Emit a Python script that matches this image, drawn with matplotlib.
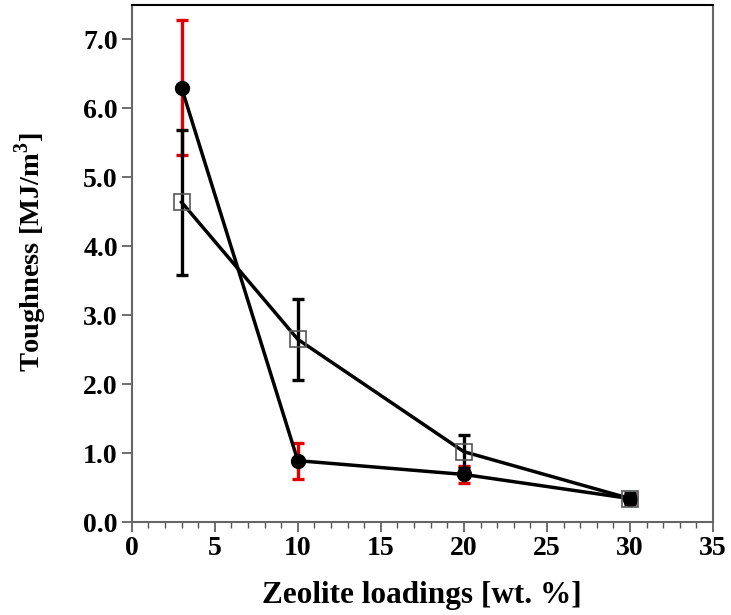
import matplotlib.pyplot as plt

# zeolite loading (wt. %)
loading = [3, 10, 20, 30]

# filled circles series with red error bars
tough_a = [6.30, 0.89, 0.69, 0.34]
err_a = [0.98, 0.26, 0.12, 0.06]

# open squares series with black error bars
tough_b = [4.64, 2.65, 1.02, 0.34]
err_b = [1.05, 0.59, 0.24, 0.08]

plt.rcParams["font.family"] = ["Liberation Serif", "DejaVu Serif"]
plt.rcParams["font.weight"] = "bold"
plt.rcParams["mathtext.fontset"] = "custom"
plt.rcParams["mathtext.rm"] = "Liberation Serif:bold"
plt.rcParams["mathtext.bf"] = "Liberation Serif:bold"

fig = plt.figure(figsize=(7.31, 6.15), dpi=100)
ax = fig.add_axes([0.1802, 0.1512, 0.7952, 0.8407])

# circles series
ax.errorbar(loading, tough_a, yerr=err_a, fmt="none", ecolor="#e00000",
            elinewidth=2.4, capsize=4, capthick=2.4, zorder=2)
ax.plot(loading, tough_a, color="black", lw=2.5, marker="o", ms=10,
        mfc="black", mec="black", zorder=4)

# squares series
ax.errorbar(loading, tough_b, yerr=err_b, fmt="none", ecolor="black",
            elinewidth=2.4, capsize=4, capthick=2.4, zorder=3)
ax.plot(loading, tough_b, color="black", lw=2.5, zorder=3)
ax.plot(loading, tough_b, ls="none", marker="s", ms=11, mfc="none",
        mec="#555555", mew=1.2, zorder=5)

ax.set_xlim(0, 35)
ax.set_ylim(0, 7.5)
ax.set_xticks(range(0, 36, 5))
ax.set_xticks(range(0, 36, 1), minor=True)
ax.set_yticks([0, 1, 2, 3, 4, 5, 6, 7])
ax.set_yticklabels([f"{v:.1f}" for v in range(8)])

ax.tick_params(axis="both", which="major", direction="out", length=7,
               width=1.2, color="#555555", labelsize=20, pad=3)
ax.tick_params(axis="x", which="minor", direction="out", length=4,
               width=1.0, color="#555555")

for side in ["left", "bottom", "right"]:
    ax.spines[side].set_color("#666666")
    ax.spines[side].set_linewidth(1.5)
ax.spines["top"].set_color("black")
ax.spines["top"].set_linewidth(1.5)

ax.set_xlabel("Zeolite loadings [wt. %]", fontsize=22.5, fontweight="bold")
ax.xaxis.set_label_coords(0.5, -0.115)
ax.set_ylabel(r"Toughness [MJ/m$^\mathbf{3}$]", fontsize=20.5, fontweight="bold")
ax.yaxis.set_label_coords(-0.142, 0.522)

fig.savefig("out.png", dpi=100)
